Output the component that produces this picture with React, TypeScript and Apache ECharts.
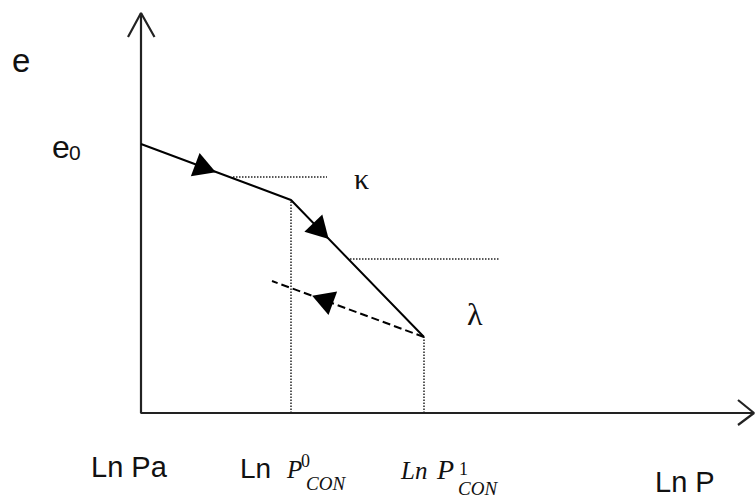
import React, { useEffect, useRef } from "react";
import * as echarts from "echarts";

// Void ratio e against ln P (schematic compression / swelling diagram)
const axisTipX = 61.3; // end of the ln P axis
const axisTipY = 40; // end of the e axis

// Loading path: from e0 at ln Pa, through ln P0con, to ln P1con
const loadingPath: [number, number][] = [
  [0, 26.9],
  [15, 21.3],
  [28.3, 7.6],
];

// Unloading (swelling) path back from ln P1con
const unloadingPath: [number, number][] = [
  [28.3, 7.6],
  [13.1, 13.2],
];

// Construction guides (slope markers and drop lines)
const kappaGuide: [number, number][] = [
  [9.2, 23.6],
  [18.6, 23.6],
];
const lambdaGuide: [number, number][] = [
  [20.9, 15.4],
  [35.8, 15.4],
];
const dropP0: [number, number][] = [
  [15, 0],
  [15, 21.3],
];
const dropP1: [number, number][] = [
  [28.3, 0],
  [28.3, 7.6],
];

// Direction markers along the loading and unloading paths
const arrowPoints: [number, number][] = [
  [6.45, 24.45],
  [18.0, 18.2],
  [18.15, 11.35],
];

// Axis & slope labels
const yAxisName = "e";
const e0Label = ["e", "0"];
const kappaLabel = "κ";
const lambdaLabel = "λ";
const tickLabels = ["Ln Pa", "Ln", "P", "0", "CON", "Ln", "P", "1", "CON", "Ln P"];

const SANS = "'Liberation Sans', Arial, sans-serif";
const SERIF = "'Liberation Serif', 'Times New Roman', serif";

function directionDeg(a: [number, number], b: [number, number]) {
  // both axes share the same pixel scale, so data slope equals screen slope
  return (Math.atan2(b[1] - a[1], b[0] - a[0]) * 180) / Math.PI;
}

function label(
  text: string,
  x: number,
  baseline: number,
  size: number,
  family: string,
  italic = false
) {
  return {
    type: "text",
    x,
    y: baseline - 0.35 * size,
    silent: true,
    style: {
      text,
      fill: "#111",
      font: `${italic ? "italic " : ""}${size}px ${family}`,
      align: "left",
      verticalAlign: "middle",
    },
  };
}

export default function App() {
  const ref = useRef<HTMLDivElement>(null);

  useEffect(() => {
    if (!ref.current) return;
    const chart = echarts.init(ref.current, undefined, { renderer: "svg" });

    const segDirs = [
      directionDeg(loadingPath[0], loadingPath[1]),
      directionDeg(loadingPath[1], loadingPath[2]),
      directionDeg(unloadingPath[0], unloadingPath[1]),
    ];

    const dotted = {
      color: "#222",
      width: 1.5,
      type: [1.5, 1.5] as number[],
    };
    const axisStyle = { color: "#222", width: 2.2 };

    const lineBase = {
      type: "line" as const,
      symbol: "none",
      silent: true,
      clip: false,
    };

    chart.setOption({
      animation: false,
      backgroundColor: "#fff",
      // the grid spans the whole canvas: 10 px per unit on both axes,
      // origin (ln Pa, 0) at pixel (141, 413)
      grid: { left: 0, top: 0, right: 0, bottom: 0 },
      xAxis: { type: "value", min: -14.1, max: 61.4, show: false },
      yAxis: { type: "value", min: -8.5, max: 41.3, show: false },
      series: [
        {
          ...lineBase,
          name: "axes",
          data: [
            [0, axisTipY],
            [0, 0],
            [axisTipX, 0],
          ],
          lineStyle: axisStyle,
        },
        {
          ...lineBase,
          name: "e arrow",
          data: [
            [-1.3, axisTipY - 2.4],
            [0, axisTipY],
            [1.35, axisTipY - 2.4],
          ],
          lineStyle: axisStyle,
        },
        {
          ...lineBase,
          name: "lnP arrow",
          data: [
            [axisTipX - 1.6, 1.3],
            [axisTipX, 0],
            [axisTipX - 1.6, -1.2],
          ],
          lineStyle: axisStyle,
        },
        { ...lineBase, name: "kappa guide", data: kappaGuide, lineStyle: dotted },
        { ...lineBase, name: "lambda guide", data: lambdaGuide, lineStyle: dotted },
        { ...lineBase, name: "P0 drop", data: dropP0, lineStyle: dotted },
        { ...lineBase, name: "P1 drop", data: dropP1, lineStyle: dotted },
        {
          ...lineBase,
          name: "loading",
          data: loadingPath,
          lineStyle: { color: "#000", width: 2 },
        },
        {
          ...lineBase,
          name: "unloading",
          data: unloadingPath,
          lineStyle: { color: "#000", width: 2, type: [8, 4] },
        },
        {
          type: "scatter",
          name: "direction",
          silent: true,
          symbol: "triangle",
          symbolSize: [25, 22],
          itemStyle: { color: "#000", opacity: 1 },
          data: arrowPoints.map((p, i) => ({
            value: p,
            symbolRotate: segDirs[i] - 90,
          })),
        },
      ],
      graphic: [
        label(yAxisName, 12, 72, 33, SANS),
        label(e0Label[0], 52, 158, 32, SANS),
        label(e0Label[1], 69, 160, 21, SANS),
        label(kappaLabel, 354, 189, 30, SERIF),
        label(lambdaLabel, 467, 325, 32, SERIF),
        label(tickLabels[0], 91, 477, 29, SANS),
        label(tickLabels[1], 240, 478, 28, SANS),
        label(tickLabels[2], 287, 478, 25, SERIF, true),
        label(tickLabels[3], 301, 467, 18, SERIF),
        label(tickLabels[4], 306, 490, 19, SERIF, true),
        label(tickLabels[5], 401, 479, 25, SERIF, true),
        label(tickLabels[6], 437, 479, 28, SERIF, true),
        label(tickLabels[7], 459, 475, 18, SERIF),
        label(tickLabels[8], 458, 495, 19, SERIF, true),
        label(tickLabels[9], 655, 492, 29, SANS),
      ],
    });

    return () => chart.dispose();
  }, []);

  return (
    <div
      ref={ref}
      style={{ position: "fixed", left: 0, top: 0, width: 755, height: 498 }}
    />
  );
}
